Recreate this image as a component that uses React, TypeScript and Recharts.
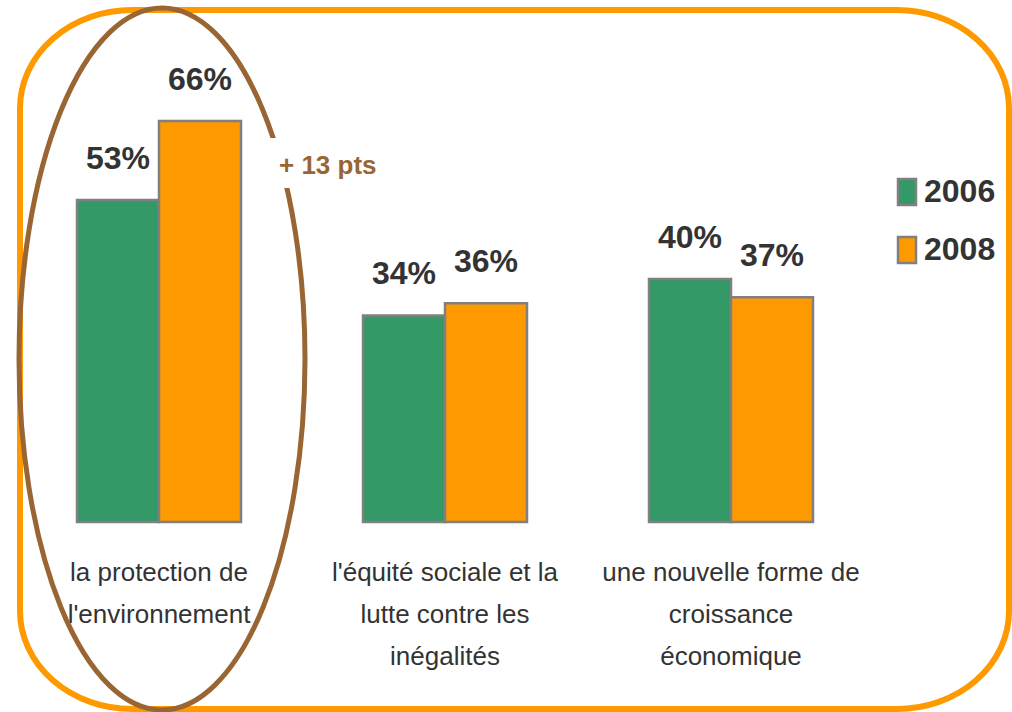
import React from 'react';
import { BarChart, Bar, XAxis, YAxis, LabelList } from 'recharts';

const categories = [
  "la protection de l'environnement",
  "l'équité sociale et la lutte contre les inégalités",
  'une nouvelle forme de croissance économique',
];
const categoryLines = [
  ['la protection de', "l'environnement"],
  ["l'équité sociale et la", 'lutte contre les', 'inégalités'],
  ['une nouvelle forme de', 'croissance', 'économique'],
];
const values2006 = [53, 34, 40];
const values2008 = [66, 36, 37];
const seriesNames = ['2006', '2008'];
const highlightText = '+ 13 pts';

const GREEN = '#339966';
const ORANGE = '#FF9900';
const BROWN = '#996633';
const EDGE = '#808080';
const FONT = "'Liberation Sans', Arial, sans-serif";
const seriesColors = [GREEN, ORANGE];

const data = categories.map((name, i) => ({
  name,
  y2006: values2006[i],
  y2008: values2008[i],
}));

const CategoryTick = (props: any) => {
  const { x, y, payload } = props;
  const lines = categoryLines[payload.index] || [payload.value];
  return (
    <g>
      {lines.map((line, i) => (
        <text
          key={i}
          x={x}
          y={y + 51 + i * 42}
          textAnchor="middle"
          fontFamily={FONT}
          fontSize={26}
          fill="#333333"
        >
          {line}
        </text>
      ))}
    </g>
  );
};

const labelStyle = { fontFamily: FONT, fontSize: 32, fontWeight: 'bold', fill: '#333333' };

export default function App() {
  return (
    <div style={{ position: 'absolute', left: 0, top: 0, width: 1012, height: 712, background: '#fff' }}>
      <BarChart
        width={1012}
        height={712}
        data={data}
        margin={{ top: 36, right: 138, bottom: 160, left: 16 }}
        barGap={0}
        barSize={82}
      >
        <XAxis dataKey="name" axisLine={false} tickLine={false} tick={<CategoryTick />} interval={0} />
        <YAxis hide domain={[0, 80]} />
        <Bar dataKey="y2006" name={seriesNames[0]} fill={GREEN} stroke={EDGE} strokeWidth={2.5} isAnimationActive={false}>
          <LabelList dataKey="y2006" position="top" offset={31} formatter={(v: any) => `${v}%`} style={labelStyle} />
        </Bar>
        <Bar dataKey="y2008" name={seriesNames[1]} fill={ORANGE} stroke={EDGE} strokeWidth={2.5} isAnimationActive={false}>
          <LabelList dataKey="y2008" position="top" offset={31} formatter={(v: any) => `${v}%`} style={labelStyle} />
        </Bar>
      </BarChart>
      <svg
        width={1012}
        height={712}
        style={{ position: 'absolute', left: 0, top: 0, pointerEvents: 'none' }}
      >
        <rect x={20} y={10} width={989} height={699} rx={112} ry={98} fill="none" stroke={ORANGE} strokeWidth={6} />
        <ellipse cx={162} cy={359} rx={143} ry={351} fill="none" stroke={BROWN} strokeWidth={5} />
        <rect x={266} y={138} width={124} height={50} fill="#fff" />
        <text x={279} y={174} fontFamily={FONT} fontSize={26} fontWeight="bold" fill={BROWN}>
          {highlightText}
        </text>
        {seriesNames.map((name, i) => (
          <g key={name}>
            <rect x={898} y={179 + i * 58} width={18} height={26} fill={seriesColors[i]} stroke={EDGE} strokeWidth={2.5} />
            <text x={924} y={202 + i * 58} fontFamily={FONT} fontSize={32} fontWeight="bold" fill="#333333">
              {name}
            </text>
          </g>
        ))}
      </svg>
    </div>
  );
}
